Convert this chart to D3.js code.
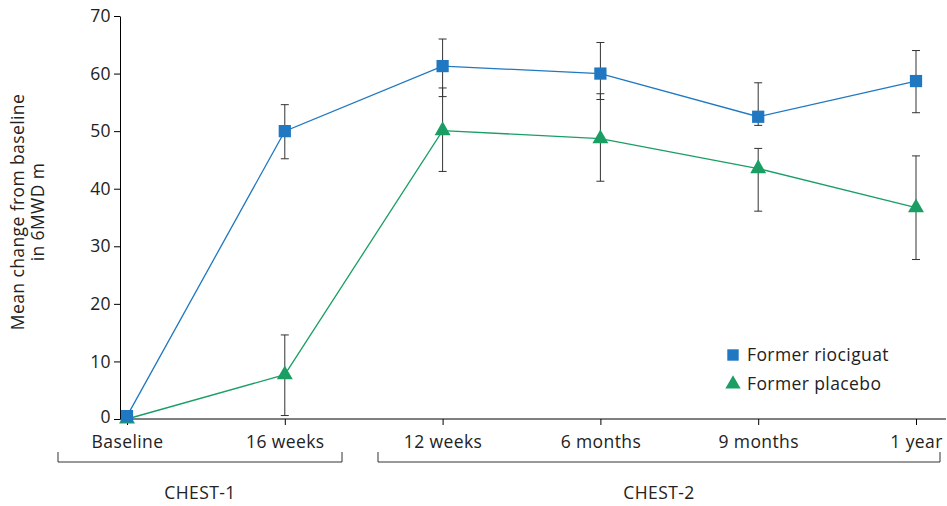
<!DOCTYPE html>
<html><head><meta charset="utf-8">
<script src="https://cdn.jsdelivr.net/npm/d3@7"></script>
<style>body{margin:0;background:#fff}text{font-family:"Open Sans",sans-serif;fill:#222;letter-spacing:0.4px}</style>
</head><body><svg id="c" width="947" height="506"></svg>
<script>
'use strict';
var categories = ['Baseline', '16 weeks', '12 weeks', '6 months', '9 months', '1 year'];
var rioMean = [0.5, 50, 61.3, 60, 52.5, 58.7];
var rioLo = [0.5, 45.2, 56, 55.5, 51, 53.2];
var rioHi = [0.5, 54.6, 66, 65.4, 58.4, 64];
var plaMean = [0, 7.7, 50.1, 48.7, 43.5, 36.7];
var plaLo = [0, 0.6, 43, 41.3, 36.1, 27.7];
var plaHi = [0, 14.6, 57.5, 56.5, 47, 45.7];
var yTicks = [0, 10, 20, 30, 40, 50, 60, 70];
var FS = '17.5px';

var svg = d3.select('#c');
var x = d3.scalePoint().domain(categories).range([127, 916]);
var y = d3.scaleLinear().domain([0, 70]).range([419, 16]);

svg.append('g').attr('transform', 'translate(120,0)')
    .call(d3.axisLeft(y).tickValues(yTicks).tickSize(6).tickSizeOuter(0))
    .call(function(g) {
        g.selectAll('text').style('font-size', FS);
        g.selectAll('.tick').filter(function(d) { return d === 0; }).select('text').attr('dy', '0.2em');
    });
svg.append('g').attr('transform', 'translate(0,419)')
    .call(d3.axisBottom(x).tickSize(6).tickSizeOuter(0))
    .call(function(g) {
        g.select('.domain').attr('d', 'M120,0H946');
        g.selectAll('text').style('font-size', FS).attr('dy', '1.15em');
    });

svg.append('text').attr('transform', 'translate(24,212) rotate(-90)')
    .attr('text-anchor', 'middle').style('font-size', FS)
    .selectAll('tspan').data(['Mean change from baseline', 'in 6MWD m']).enter()
    .append('tspan').attr('x', 0).attr('dy', function(d, i) { return i ? '1.15em' : 0; })
    .text(function(d) { return d; });

function series(mean, lo, hi, color, shape) {
    var g = svg.append('g');
    g.selectAll('.eb').data(categories).enter().append('path')
        .attr('stroke', '#333').attr('fill', 'none')
        .attr('d', function(d, i) {
            var cx = x(d), a = y(lo[i]), b = y(hi[i]);
            return 'M' + (cx - 4) + ',' + a + 'H' + (cx + 4) + 'M' + cx + ',' + a + 'V' + b +
                'M' + (cx - 4) + ',' + b + 'H' + (cx + 4);
        });
    g.append('path').datum(mean).attr('fill', 'none').attr('stroke', color).attr('stroke-width', 1.3)
        .attr('d', d3.line().x(function(d, i) { return x(categories[i]); }).y(function(d) { return y(d); }));
    g.selectAll('.pt').data(mean).enter().append('path')
        .attr('fill', color)
        .attr('transform', function(d, i) { return 'translate(' + x(categories[i]) + ',' + y(d) + ')'; })
        .attr('d', d3.symbol().type(shape).size(shape === d3.symbolSquare ? 150 : 110));
}
series(plaMean, plaLo, plaHi, '#1a9e64', d3.symbolTriangle);
series(rioMean, rioLo, rioHi, '#1f78c1', d3.symbolSquare);

var legend = [['Former riociguat', '#1f78c1', d3.symbolSquare], ['Former placebo', '#1a9e64', d3.symbolTriangle]];
legend.forEach(function(l, i) {
    svg.append('path').attr('fill', l[1]).attr('transform', 'translate(733,' + (355 + i * 29) + ')')
        .attr('d', d3.symbol().type(l[2]).size(l[2] === d3.symbolSquare ? 130 : 100));
    svg.append('text').attr('x', 747).attr('y', 361 + i * 29).style('font-size', FS).text(l[0]);
});

[[58, 342, 'CHEST-1'], [378, 940, 'CHEST-2']].forEach(function(b) {
    svg.append('path').attr('fill', 'none').attr('stroke', '#333')
        .attr('d', 'M' + b[0] + ',452V462H' + b[1] + 'V452');
    svg.append('text').attr('x', (b[0] + b[1]) / 2).attr('y', 499).attr('text-anchor', 'middle')
        .style('font-size', FS).text(b[2]);
});
</script></body></html>
